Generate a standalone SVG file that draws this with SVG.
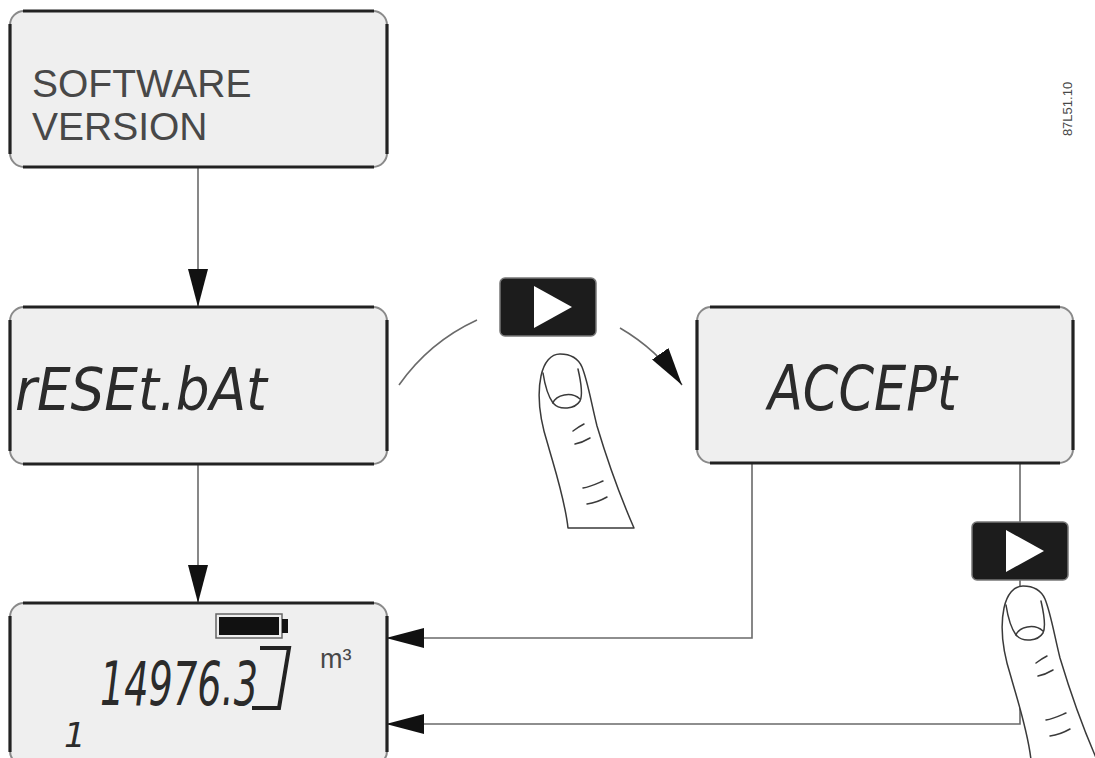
<svg xmlns="http://www.w3.org/2000/svg" xmlns:xlink="http://www.w3.org/1999/xlink" width="1095" height="758" viewBox="0 0 1095 758">
  <style>
    .box { fill: #efefef; stroke: #8a8a8a; stroke-width: 2; }
    .edge { stroke: #222; stroke-width: 3.2; fill: none; }
    .conn { stroke: #6a6a6a; stroke-width: 1.6; fill: none; }
    .lcd { font-family: "DejaVu Sans", "Liberation Sans", sans-serif; font-style: oblique; fill: #2b2b2b; }
    .label { font-family: "Liberation Sans", Arial, sans-serif; fill: #484848; }
    .finger { fill: #fff; stroke: #3a3a3a; stroke-width: 1.5; stroke-linecap: round; stroke-linejoin: round; }
    .crease { fill: none; stroke: #3a3a3a; stroke-width: 1.5; stroke-linecap: round; }
  </style>
  <defs>
    <marker id="arrow" markerUnits="userSpaceOnUse" markerWidth="38" markerHeight="20" refX="38" refY="10" orient="auto">
      <path d="M0,0 L38,10 L0,20 Z" fill="#111"/>
    </marker>
    <g id="button">
      <rect x="0" y="0" width="96" height="58" rx="5" fill="#1c1c1c" stroke="#777" stroke-width="1.5"/>
      <path d="M34,8 L72,29 L34,50 Z" fill="#fff"/>
    </g>
    <g id="finger">
      <path class="finger" d="M568,528 C565,500 555,470 548,445 C540,420 537,395 541,376 C544,362 551,354 560,354 C570,354 578,358 582,367 C588,382 591,402 597,426 C606,456 620,496 634,528 Z"/>
      <path class="crease" d="M543,373 C545,386 548,396 553,403 C560,411 575,409 580,401 C583,395 581,382 578,369"/>
      <path class="crease" d="M553,403 C556,395 571,391 580,399"/>
      <path class="crease" d="M573,431 C577,428 580,426 584,424"/>
      <path class="crease" d="M575,444 C580,443 585,441 590,438"/>
      <path class="crease" d="M583,488 C590,487 596,484 603,481"/>
      <path class="crease" d="M587,504 C594,503 600,501 607,497"/>
    </g>
  </defs>

  <g id="connectors">
    <line class="conn" x1="198" y1="167" x2="198" y2="307" marker-end="url(#arrow)"/>
    <line class="conn" x1="198" y1="464" x2="198" y2="603" marker-end="url(#arrow)"/>
    <path class="conn" d="M399,385 A195,195 0 0 1 477,320"/>
    <path class="conn" d="M620,328 A195,195 0 0 1 682,385" marker-end="url(#arrow)"/>
    <polyline class="conn" points="752,463 752,638 386,638" marker-end="url(#arrow)"/>
    <polyline class="conn" points="1020,463 1020,724 386,724" marker-end="url(#arrow)"/>
  </g>

  <g id="node-software-version">
    <rect class="box" x="10" y="11" width="377" height="156" rx="14"/>
    <path class="edge" d="M23,11 H374 M23,167 H374 M10,24 V154 M387,24 V154"/>
    <text class="label" x="32" y="97" font-size="39">SOFTWARE</text>
    <text class="label" x="32" y="140" font-size="39">VERSION</text>
  </g>

  <g id="node-reset-bat">
    <rect class="box" x="10" y="307" width="377" height="157" rx="14"/>
    <path class="edge" d="M23,307 H374 M23,464 H374 M10,320 V451 M387,320 V451"/>
    <text class="lcd" x="15" y="410" font-size="59" textLength="252" lengthAdjust="spacingAndGlyphs">rESEt.bAt</text>
  </g>

  <g id="node-accept">
    <rect class="box" x="697" y="307" width="376" height="156" rx="14"/>
    <path class="edge" d="M710,307 H1060 M710,463 H1060 M697,320 V450 M1073,320 V450"/>
    <text class="lcd" x="768" y="410" font-size="63" textLength="189" lengthAdjust="spacingAndGlyphs">ACCEPt</text>
  </g>

  <g id="node-display">
    <rect class="box" x="10" y="603" width="377" height="162" rx="14"/>
    <path class="edge" d="M23,603 H374 M10,616 V752 M387,616 V752"/>
    <rect x="216" y="614" width="66" height="24" fill="none" stroke="#666" stroke-width="1.5"/>
    <rect x="219" y="617" width="60" height="18" fill="#111"/>
    <rect x="282" y="619" width="6" height="14" fill="#111"/>
    <text class="lcd" x="100" y="705" font-size="60" textLength="158" lengthAdjust="spacingAndGlyphs">14976.3</text>
    <path d="M260,648 H289 L279,708 H252" fill="none" stroke="#222" stroke-width="4" stroke-linejoin="miter"/>
    <text class="label" x="320" y="668" font-size="27">m³</text>
    <text class="lcd" x="64" y="747" font-size="34">1</text>
  </g>

  <g id="button-1">
    <use xlink:href="#button" transform="translate(500,278)"/>
    <use xlink:href="#finger"/>
  </g>

  <g id="button-2">
    <use xlink:href="#button" transform="translate(972,522)"/>
    <use xlink:href="#finger" transform="translate(463,232)"/>
  </g>

  <text class="label" x="0" y="0" font-size="13" fill="#555" text-anchor="middle" transform="translate(1072,109) rotate(-90)">87L51.10</text>
</svg>
